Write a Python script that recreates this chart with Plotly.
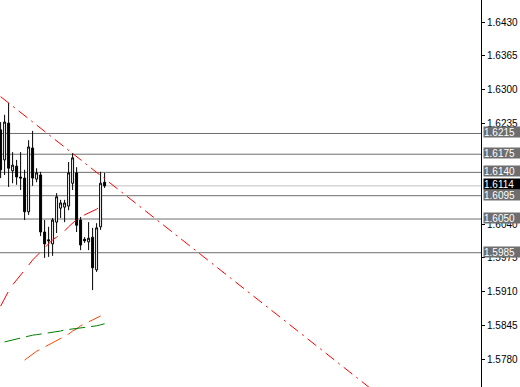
import plotly.graph_objects as go

# ---- data ----
bar_index = list(range(27))
open_ = [1.6222, 1.6164, 1.6235, 1.6143, 1.6152, 1.6131, 1.6129, 1.6064, 1.6187, 1.6127,
         1.6135, 1.6025, 1.6010, 1.6002, 1.6044, 1.6071, 1.6073, 1.6075, 1.6119, 1.6139,
         1.6048, 1.6011, 1.6006, 1.6015, 1.5952, 1.6035, 1.6121]
high = [1.6237, 1.6251, 1.6274, 1.6179, 1.6164, 1.6179, 1.6145, 1.6202, 1.6220, 1.6148,
        1.6141, 1.6048, 1.6035, 1.6052, 1.6100, 1.6087, 1.6087, 1.6160, 1.6177, 1.6150,
        1.6054, 1.6015, 1.6044, 1.6033, 1.6042, 1.6141, 1.6139]
low = [1.6129, 1.6135, 1.6112, 1.6119, 1.6116, 1.6106, 1.6048, 1.6058, 1.6114, 1.6121,
       1.6017, 1.5975, 1.5977, 1.5979, 1.6023, 1.6052, 1.6044, 1.6067, 1.6106, 1.6025,
       1.5990, 1.6004, 1.5990, 1.5913, 1.5948, 1.6029, 1.6110]
close = [1.6145, 1.6237, 1.6148, 1.6154, 1.6131, 1.6129, 1.6064, 1.6189, 1.6129, 1.6139,
         1.6025, 1.6002, 1.6008, 1.6048, 1.6093, 1.6081, 1.6081, 1.6139, 1.6168, 1.6038,
         1.6000, 1.6008, 1.6013, 1.5956, 1.6033, 1.6119, 1.6114]

trend_x = [0, 94]
trend_y = [1.6286, 1.5714]

red_x = list(range(27))
red_y = [1.5882, 1.5898, 1.5911, 1.5923, 1.5932, 1.5942, 1.5950, 1.5961, 1.5971, 1.5979,
         1.5988, 1.5994, 1.6002, 1.6010, 1.6015, 1.6021, 1.6027, 1.6035, 1.6042, 1.6048,
         1.6056, 1.6058, 1.6062, 1.6066, 1.6069, 1.6075, 1.6081]

orange_x = list(range(6, 26))
orange_y = [1.5778, 1.5784, 1.5790, 1.5795, 1.5799, 1.5803, 1.5807, 1.5811, 1.5815, 1.5819,
            1.5824, 1.5828, 1.5834, 1.5838, 1.5844, 1.5848, 1.5851, 1.5855, 1.5859, 1.5863]

green_x = list(range(1, 27))
green_y = [1.5813, 1.5815, 1.5817, 1.5819, 1.5820, 1.5822, 1.5824, 1.5826, 1.5827, 1.5828,
           1.5830, 1.5831, 1.5832, 1.5833, 1.5834, 1.5836, 1.5837, 1.5838, 1.5839, 1.5840,
           1.5841, 1.5842, 1.5842, 1.5844, 1.5846, 1.5848]

levels = [1.6215, 1.6175, 1.6140, 1.6095, 1.6050, 1.5985]
current_price = 1.6114
tick_values = [1.6430, 1.6365, 1.6300, 1.6235, 1.6040, 1.5975, 1.5910, 1.5845, 1.5780]

# ---- figure ----
fig = go.Figure()

for lv in levels:
    fig.add_hline(y=lv, line=dict(color="#6E6E6E", width=1), layer="below")
fig.add_hline(y=current_price, line=dict(color="#C0C0C0", width=1), layer="below")

fig.add_trace(go.Candlestick(
    x=bar_index, open=open_, high=high, low=low, close=close,
    increasing=dict(line=dict(color="black", width=1), fillcolor="white"),
    decreasing=dict(line=dict(color="black", width=1), fillcolor="black"),
    whiskerwidth=0, hoverinfo="skip"))

fig.add_trace(go.Scatter(x=trend_x, y=trend_y, mode="lines",
                         line=dict(color="#FF0000", width=1, dash="11px,5px,2px,5px")))
fig.add_trace(go.Scatter(x=red_x, y=red_y, mode="lines",
                         line=dict(color="#FF0000", width=1, dash="16px,9px")))
fig.add_trace(go.Scatter(x=orange_x, y=orange_y, mode="lines",
                         line=dict(color="#FF4500", width=1, dash="18px,7px")))
fig.add_trace(go.Scatter(x=green_x, y=green_y, mode="lines",
                         line=dict(color="#008000", width=1, dash="16px,6px")))

for lv in levels:
    fig.add_annotation(xref="paper", x=1.0, xanchor="left", y=lv, yref="y",
                       text=f"{lv:.4f}", showarrow=False, bgcolor="#6E6E6E",
                       font=dict(color="white", size=10, family="Liberation Sans"),
                       width=37, height=10, align="left", borderpad=0, yshift=1, xshift=2)
fig.add_annotation(xref="paper", x=1.0, xanchor="left", y=current_price, yref="y",
                   text=f"{current_price:.4f}", showarrow=False, bgcolor="black",
                   font=dict(color="white", size=10, family="Liberation Sans"),
                   width=37, height=10, align="left", borderpad=0, yshift=2, xshift=2)

fig.update_layout(
    width=520, height=387,
    margin=dict(l=0, r=39, t=0, b=0),
    paper_bgcolor="white", plot_bgcolor="white",
    showlegend=False,
    xaxis=dict(range=[-0.15, 120.1], visible=False, rangeslider=dict(visible=False),
               showgrid=False, zeroline=False),
    yaxis=dict(side="right", range=[1.572605, 1.647243], showgrid=False, zeroline=False,
               showline=True, linecolor="black", linewidth=1,
               ticks="outside", ticklen=3, tickcolor="black",
               tickvals=tick_values, tickformat=".4f",
               tickfont=dict(family="Liberation Sans", size=10, color="black")),
)

fig.write_html("out.html")
